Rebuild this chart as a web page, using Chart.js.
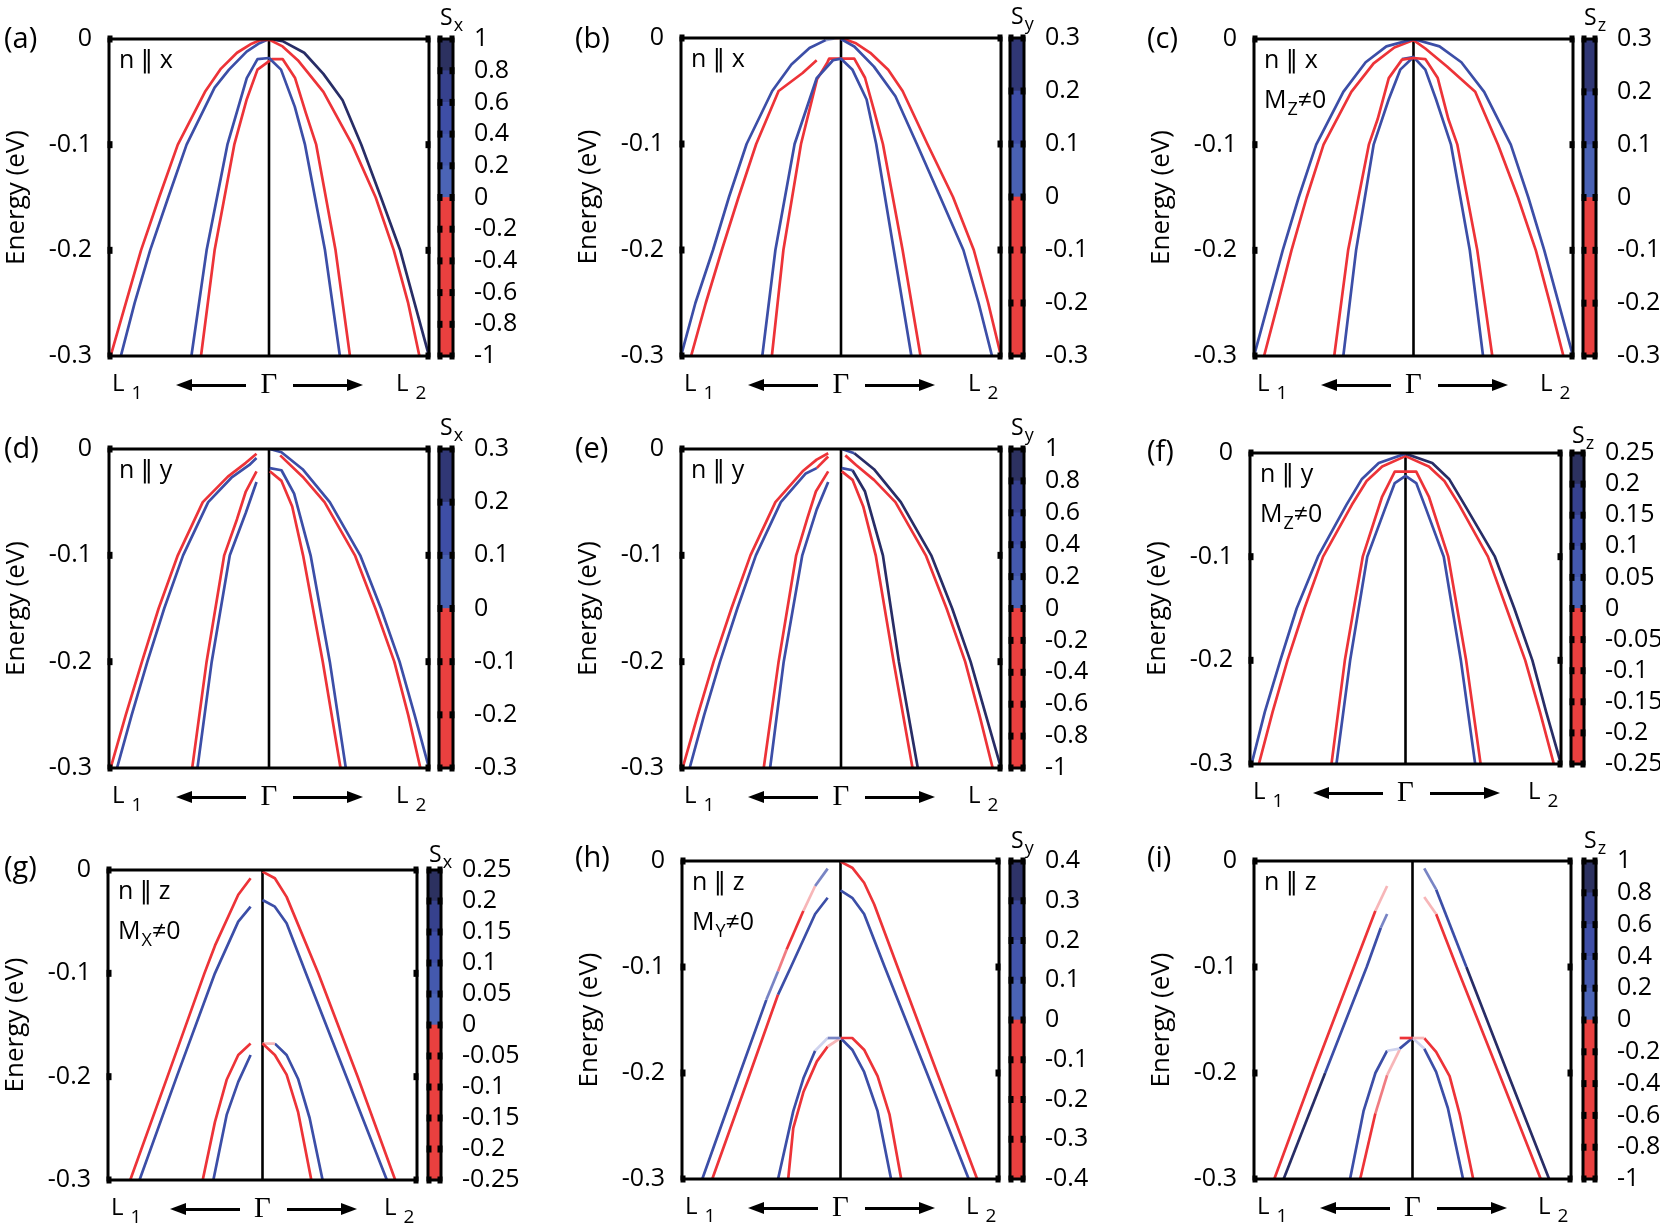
<!DOCTYPE html>
<html>
<head>
<meta charset="utf-8">
<script src="https://cdn.jsdelivr.net/npm/chart.js@4.4.1/dist/chart.umd.min.js"></script>
<style>
body{margin:0;background:#fff;width:1660px;height:1229px;position:relative;overflow:hidden;font-family:"Open Sans","DejaVu Sans",sans-serif;color:#000}
canvas{position:absolute}
.txt{position:absolute;white-space:nowrap}
.sb{font-size:19px;position:relative;top:8px;margin-left:7px}
.ms{font-size:18px;position:relative;top:7px;margin-left:1px}
.ss{font-size:18px;position:relative;top:6px;margin-left:1px}
.arr{position:absolute;height:3px;background:#000}
.hl,.hr{position:absolute;width:0;height:0;border-top:6px solid transparent;border-bottom:6px solid transparent}
.hl{border-right:16px solid #000}
.hr{border-left:16px solid #000}
</style>
</head>
<body>
<script>
// energy axis
const energyTicks = [0, -0.1, -0.2, -0.3];

// colorbar tick values
const spinTicks1 = [1, 0.8, 0.6, 0.4, 0.2, 0, -0.2, -0.4, -0.6, -0.8, -1];
const spinTicks03 = [0.3, 0.2, 0.1, 0, -0.1, -0.2, -0.3];
const spinTicks025 = [0.25, 0.2, 0.15, 0.1, 0.05, 0, -0.05, -0.1, -0.15, -0.2, -0.25];
const spinTicks04 = [0.4, 0.3, 0.2, 0.1, 0, -0.1, -0.2, -0.3, -0.4];

// bands: [colour, [[k, E], ...]]  k: L1 = -1, Gamma = 0, L2 = 1
const bandsA = [
  ['red',  [[-0.99,-0.3],[-0.895,-0.25],[-0.80,-0.2],[-0.687,-0.15],[-0.57,-0.1],[-0.40,-0.05],[-0.30,-0.028],[-0.20,-0.013],[-0.116,-0.005],[-0.054,-0.001],[0,-0.0005],[0.085,-0.007],[0.18,-0.02],[0.34,-0.05],[0.52,-0.1],[0.667,-0.15],[0.78,-0.2],[0.87,-0.25],[0.94,-0.3]]],
  ['blue', [[-0.926,-0.3],[-0.84,-0.25],[-0.743,-0.2],[-0.63,-0.15],[-0.515,-0.1],[-0.34,-0.046],[-0.25,-0.029],[-0.14,-0.012],[-0.06,-0.004],[0,0]]],
  ['navy', [[0,0],[0.085,-0.002],[0.22,-0.013],[0.34,-0.033],[0.46,-0.058],[0.577,-0.1],[0.70,-0.15],[0.82,-0.2],[0.91,-0.25],[1.0,-0.3]]],
  ['blue', [[-0.485,-0.3],[-0.39,-0.2],[-0.26,-0.1],[-0.139,-0.037],[-0.072,-0.019],[0,-0.018],[0.075,-0.029],[0.161,-0.064],[0.225,-0.1],[0.35,-0.2],[0.443,-0.3]]],
  ['red',  [[-0.425,-0.3],[-0.34,-0.2],[-0.217,-0.1],[-0.139,-0.057],[-0.072,-0.029],[0.018,-0.019],[0.085,-0.019],[0.163,-0.037],[0.23,-0.07],[0.295,-0.1],[0.416,-0.2],[0.506,-0.3]]]
];

const bandsB = [
  ['blue', [[-1.0,-0.3],[-0.91,-0.25],[-0.80,-0.2],[-0.70,-0.15],[-0.59,-0.1],[-0.43,-0.05],[-0.31,-0.025],[-0.197,-0.0095],[-0.096,-0.002]]],
  ['lblue',[[-0.096,-0.002],[-0.04,-0.0005]]],
  ['pink', [[-0.04,-0.0005],[0,0]]],
  ['blue', [[0,-0.001],[0.083,-0.008],[0.206,-0.027],[0.34,-0.055],[0.474,-0.1],[0.62,-0.15],[0.765,-0.2],[0.86,-0.25],[0.944,-0.3]]],
  ['red',  [[-0.937,-0.3],[-0.845,-0.25],[-0.745,-0.2],[-0.64,-0.15],[-0.53,-0.1],[-0.39,-0.05],[-0.24,-0.033],[-0.152,-0.021]]],
  ['red',  [[0,0],[0.094,-0.005],[0.183,-0.014],[0.295,-0.03],[0.385,-0.05],[0.54,-0.1],[0.70,-0.15],[0.83,-0.2],[0.92,-0.25],[1.0,-0.3]]],
  ['blue', [[-0.492,-0.3],[-0.41,-0.2],[-0.29,-0.1],[-0.152,-0.038],[-0.05,-0.021],[0,-0.0195],[0.072,-0.03],[0.16,-0.058],[0.22,-0.1],[0.33,-0.2],[0.44,-0.3]]],
  ['red',  [[-0.432,-0.3],[-0.36,-0.2],[-0.25,-0.1],[-0.15,-0.039],[-0.085,-0.023],[-0.074,-0.0195],[0.083,-0.0195],[0.15,-0.0375],[0.206,-0.068],[0.262,-0.1],[0.385,-0.2],[0.497,-0.3]]]
];

const bandsC = [
  ['blue', [[-1.0,-0.3],[-0.91,-0.25],[-0.82,-0.2],[-0.72,-0.15],[-0.61,-0.1],[-0.44,-0.05],[-0.30,-0.022],[-0.17,-0.007],[0,0],[0.163,-0.007],[0.30,-0.022],[0.443,-0.05],[0.61,-0.1],[0.72,-0.15],[0.82,-0.2],[0.91,-0.25],[1.0,-0.3]]],
  ['red',  [[-0.937,-0.3],[-0.85,-0.25],[-0.765,-0.2],[-0.67,-0.15],[-0.564,-0.1],[-0.39,-0.05],[-0.25,-0.023],[-0.12,-0.008],[0,-0.001],[0.074,-0.009],[0.21,-0.026],[0.387,-0.05],[0.53,-0.1],[0.655,-0.15],[0.767,-0.2],[0.855,-0.25],[0.94,-0.3]]],
  ['red',  [[-0.497,-0.3],[-0.41,-0.2],[-0.28,-0.1],[-0.225,-0.076],[-0.155,-0.037],[-0.072,-0.0195],[0,-0.018],[0.074,-0.019],[0.152,-0.037],[0.219,-0.076],[0.275,-0.1],[0.40,-0.2],[0.494,-0.3]]],
  ['blue', [[-0.44,-0.3],[-0.36,-0.2],[-0.25,-0.1],[-0.155,-0.057],[-0.083,-0.029],[0,-0.017],[0.074,-0.029],[0.141,-0.057],[0.235,-0.1],[0.353,-0.2],[0.436,-0.3]]],
  ['blue', [[-0.072,-0.019],[0,-0.017]]]
];

const bandsD = [
  ['red',  [[-0.99,-0.3],[-0.895,-0.25],[-0.794,-0.2],[-0.69,-0.15],[-0.57,-0.1],[-0.414,-0.05],[-0.257,-0.026],[-0.145,-0.013],[-0.078,-0.0044]]],
  ['blue', [[-0.95,-0.3],[-0.858,-0.25],[-0.76,-0.2],[-0.655,-0.15],[-0.537,-0.1],[-0.38,-0.05],[-0.235,-0.027],[-0.123,-0.015],[-0.078,-0.0085]]],
  ['red',  [[-0.48,-0.3],[-0.39,-0.2],[-0.28,-0.1],[-0.2,-0.066],[-0.145,-0.04],[-0.078,-0.021]]],
  ['blue', [[-0.447,-0.3],[-0.358,-0.2],[-0.245,-0.1],[-0.145,-0.06],[-0.078,-0.031]]],
  ['blue', [[0.005,0],[0.078,-0.003],[0.21,-0.019],[0.38,-0.05],[0.57,-0.1],[0.70,-0.15],[0.816,-0.2],[0.91,-0.25],[1.0,-0.3]]],
  ['red',  [[0.07,-0.006],[0.21,-0.026],[0.347,-0.05],[0.537,-0.1],[0.665,-0.15],[0.783,-0.2],[0.87,-0.25],[0.946,-0.3]]],
  ['blue', [[0.005,-0.018],[0.078,-0.02],[0.157,-0.042],[0.26,-0.1],[0.38,-0.2],[0.48,-0.3]]],
  ['red',  [[0.005,-0.021],[0.078,-0.03],[0.145,-0.054],[0.213,-0.1],[0.336,-0.2],[0.447,-0.3]]]
];

const bandsE = [
  ['red',  [[-0.99,-0.3],[-0.895,-0.25],[-0.796,-0.2],[-0.685,-0.15],[-0.566,-0.1],[-0.41,-0.05],[-0.24,-0.021],[-0.152,-0.01],[-0.08,-0.004]]],
  ['blue', [[-0.946,-0.3],[-0.855,-0.25],[-0.756,-0.2],[-0.648,-0.15],[-0.532,-0.1],[-0.376,-0.05],[-0.22,-0.023],[-0.152,-0.018]]],
  ['red',  [[-0.152,-0.018],[-0.08,-0.007]]],
  ['red',  [[-0.483,-0.3],[-0.39,-0.2],[-0.28,-0.1],[-0.21,-0.065],[-0.157,-0.04],[-0.08,-0.021]]],
  ['blue', [[-0.443,-0.3],[-0.358,-0.2],[-0.242,-0.1],[-0.152,-0.057],[-0.08,-0.031]]],
  ['blue', [[0.005,0],[0.083,-0.004]]],
  ['navy', [[0.083,-0.004],[0.206,-0.019],[0.374,-0.05],[0.564,-0.1],[0.695,-0.15],[0.81,-0.2],[0.905,-0.25],[1.0,-0.3]]],
  ['red',  [[0.027,-0.006],[0.094,-0.015],[0.206,-0.029],[0.34,-0.05],[0.53,-0.1],[0.66,-0.15],[0.776,-0.2],[0.865,-0.25],[0.948,-0.3]]],
  ['blue', [[0.005,-0.018],[0.072,-0.02]]],
  ['navy', [[0.072,-0.02],[0.15,-0.04],[0.262,-0.1],[0.362,-0.2],[0.48,-0.3]]],
  ['red',  [[0.005,-0.021],[0.072,-0.029],[0.139,-0.054],[0.217,-0.1],[0.329,-0.2],[0.447,-0.3]]]
];

const bandsF = [
  ['blue', [[-0.99,-0.3],[-0.905,-0.25],[-0.805,-0.2],[-0.70,-0.15],[-0.563,-0.1],[-0.38,-0.05],[-0.28,-0.025],[-0.172,-0.0097],[0,-0.0006]]],
  ['navy', [[0,-0.0006],[0.172,-0.0097],[0.28,-0.025],[0.38,-0.05],[0.575,-0.1],[0.70,-0.15],[0.816,-0.2],[0.905,-0.25],[1.0,-0.3]]],
  ['red',  [[-0.943,-0.3],[-0.855,-0.25],[-0.759,-0.2],[-0.65,-0.15],[-0.53,-0.1],[-0.345,-0.05],[-0.25,-0.027],[-0.15,-0.013],[0,-0.003],[0.15,-0.013],[0.25,-0.027],[0.345,-0.05],[0.53,-0.1],[0.65,-0.15],[0.77,-0.2],[0.865,-0.25],[0.954,-0.3]]],
  ['red',  [[-0.476,-0.3],[-0.39,-0.2],[-0.275,-0.1],[-0.15,-0.042],[-0.069,-0.018],[0.069,-0.018],[0.15,-0.042],[0.275,-0.1],[0.39,-0.2],[0.483,-0.3]]],
  ['blue', [[-0.444,-0.3],[-0.356,-0.2],[-0.246,-0.1],[-0.126,-0.0515],[-0.069,-0.029],[0,-0.022],[0.069,-0.029],[0.126,-0.0515],[0.246,-0.1],[0.356,-0.2],[0.448,-0.3]]]
];

const bandsG = [
  ['red',  [[-0.856,-0.3],[-0.615,-0.2],[-0.376,-0.1],[-0.307,-0.073],[-0.157,-0.024],[-0.077,-0.008]]],
  ['blue', [[-0.796,-0.3],[-0.555,-0.2],[-0.308,-0.1],[-0.157,-0.05],[-0.077,-0.0355]]],
  ['red',  [[0,-0.0016],[0.08,-0.008],[0.156,-0.026],[0.361,-0.1],[0.616,-0.2],[0.859,-0.3]]],
  ['blue', [[0,-0.029],[0.08,-0.0355],[0.156,-0.0516],[0.281,-0.1],[0.543,-0.2],[0.805,-0.3]]],
  ['red',  [[-0.387,-0.3],[-0.308,-0.244],[-0.232,-0.203],[-0.157,-0.179],[-0.077,-0.168]]],
  ['blue', [[-0.318,-0.3],[-0.232,-0.237],[-0.157,-0.205],[-0.077,-0.179]]],
  ['red',  [[0,-0.168],[0.08,-0.179],[0.156,-0.198],[0.23,-0.234],[0.316,-0.3]]],
  ['pink', [[0,-0.168],[0.08,-0.168]]],
  ['blue', [[0.08,-0.168],[0.156,-0.179],[0.23,-0.202],[0.305,-0.24],[0.389,-0.3]]]
];

const bandsH = [
  ['mblue', [[-0.081,-0.0072],[-0.16,-0.0236]]],
  ['pink',  [[-0.16,-0.0236],[-0.234,-0.047]]],
  ['red',   [[-0.234,-0.047],[-0.34,-0.0835]]],
  ['mpink', [[-0.34,-0.0835],[-0.394,-0.104]]],
  ['mblue', [[-0.394,-0.104],[-0.468,-0.131]]],
  ['blue',  [[-0.468,-0.131],[-0.634,-0.2],[-0.872,-0.3]]],
  ['blue',  [[-0.081,-0.0347],[-0.16,-0.05],[-0.313,-0.1],[-0.394,-0.126]]],
  ['red',   [[-0.394,-0.126],[-0.57,-0.2],[-0.809,-0.3]]],
  ['red',   [[0,-0.0006],[0.074,-0.0063],[0.149,-0.0205],[0.213,-0.041],[0.36,-0.1],[0.61,-0.2],[0.862,-0.3]]],
  ['blue',  [[0,-0.0277],[0.074,-0.0347],[0.149,-0.05],[0.279,-0.1],[0.545,-0.2],[0.809,-0.3]]],
  ['mblue', [[0,-0.167],[-0.081,-0.167]]],
  ['vlblue',[[-0.081,-0.167],[-0.16,-0.179]]],
  ['blue',  [[-0.16,-0.179],[-0.234,-0.205],[-0.298,-0.236],[-0.394,-0.3]]],
  ['pink',  [[0,-0.167],[-0.081,-0.175]]],
  ['red',   [[-0.081,-0.175],[-0.149,-0.189],[-0.234,-0.218],[-0.298,-0.252],[-0.33,-0.3]]],
  ['red',   [[0,-0.167],[0.074,-0.167],[0.149,-0.178],[0.234,-0.203],[0.309,-0.239],[0.383,-0.3]]],
  ['blue',  [[0,-0.167],[0.074,-0.178],[0.149,-0.199],[0.234,-0.236],[0.319,-0.3]]]
];

const bandsI = [
  ['pink',  [[-0.16,-0.0236],[-0.234,-0.047]]],
  ['red',   [[-0.234,-0.047],[-0.37,-0.1],[-0.625,-0.2],[-0.872,-0.3]]],
  ['mblue', [[-0.16,-0.05],[-0.2,-0.063]]],
  ['blue',  [[-0.2,-0.063],[-0.289,-0.1],[-0.551,-0.2]]],
  ['navy',  [[-0.551,-0.2],[-0.813,-0.3]]],
  ['mblue', [[0.074,-0.0069],[0.149,-0.0268]]],
  ['blue',  [[0.149,-0.0268],[0.34,-0.1]]],
  ['navy',  [[0.34,-0.1],[0.6,-0.2],[0.862,-0.3]]],
  ['pink',  [[0.074,-0.034],[0.149,-0.05]]],
  ['red',   [[0.149,-0.05],[0.279,-0.1],[0.545,-0.2],[0.809,-0.3]]],
  ['red',   [[-0.081,-0.167],[0,-0.167]]],
  ['blue',  [[0,-0.167],[-0.081,-0.177]]],
  ['vlblue',[[-0.081,-0.177],[-0.16,-0.179]]],
  ['blue',  [[-0.16,-0.179],[-0.234,-0.2],[-0.309,-0.236],[-0.394,-0.3]]],
  ['pink',  [[-0.081,-0.178],[-0.16,-0.202]]],
  ['mpink', [[-0.16,-0.202],[-0.234,-0.238]]],
  ['red',   [[-0.234,-0.238],[-0.33,-0.3]]],
  ['pink',  [[0,-0.167],[0.074,-0.167]]],
  ['red',   [[0.074,-0.167],[0.149,-0.18],[0.234,-0.203],[0.298,-0.239],[0.383,-0.3]]],
  ['vlblue',[[0,-0.167],[0.074,-0.177]]],
  ['blue',  [[0.074,-0.177],[0.149,-0.199],[0.223,-0.233],[0.319,-0.3]]]
];

const panelBands = [bandsA, bandsB, bandsC, bandsD, bandsE, bandsF, bandsG, bandsH, bandsI];
const panelSpinTicks = [spinTicks1, spinTicks03, spinTicks03, spinTicks03, spinTicks1, spinTicks025, spinTicks025, spinTicks04, spinTicks1];
const panelLetters = ['(a)', '(b)', '(c)', '(d)', '(e)', '(f)', '(g)', '(h)', '(i)'];
const panelDirection = ['x', 'x', 'x', 'y', 'y', 'y', 'z', 'z', 'z'];
const panelMoment = ['', '', 'Z', '', '', 'Z', 'X', 'Y', ''];
const spinComponent = ['x', 'y', 'z', 'x', 'y', 'z', 'x', 'y', 'z'];

// layout (page pixels)
const plotBoxes = [
  [109, 39, 429, 356], [681, 38, 1001, 356], [1254, 39, 1573, 356],
  [109, 449, 429, 768], [681, 449, 1001, 768], [1250, 453, 1561, 764],
  [108, 870, 417, 1180], [682, 861, 999, 1179], [1254, 861, 1571, 1179]
];
const cbX = [[438,455],[1009,1026],[1582,1598],[438,455],[1009,1026],[1570,1586],[427,443],[1009,1026],[1582,1598]];
const letterPos = [[4,22],[575,22],[1147,22],[4,432],[575,432],[1147,435],[4,851],[575,841],[1147,841]];
const spinTitleOff = [-14,-14,-14,-14,-14,-10,-8,-13,-13];

const COLORS = {
  red: '#ed3338', blue: '#3c4ea7', navy: '#282d66', lblue: '#a3acd9',
  vlblue: '#cfd3ee', mblue: '#7884c4', pink: '#f7b6b8', mpink: '#f07c82'
};
const AXIS_W = 105;
const CB_AX = 80;
const PAD_V = 44;

Chart.defaults.font.family = '"Open Sans", "DejaVu Sans", sans-serif';
Chart.defaults.color = '#000';

const framePlugin = {
  id: 'frame',
  afterDatasetsDraw(chart, args, opts) {
    const {ctx, chartArea: a} = chart;
    const y = chart.scales.y;
    ctx.save();
    ctx.strokeStyle = '#000';
    ctx.lineWidth = opts.lw;
    ctx.strokeRect(a.left, a.top, a.right - a.left, a.bottom - a.top);
    ctx.fillStyle = '#000';
    y.ticks.forEach(t => {
      const py = y.getPixelForValue(t.value);
      ctx.fillRect(a.left - opts.lw / 2, py - opts.mh / 2, opts.mw, opts.mh);
      ctx.fillRect(a.right + opts.lw / 2 - opts.mw, py - opts.mh / 2, opts.mw, opts.mh);
    });
    ctx.restore();
  }
};

function addText(html, left, top, css) {
  const d = document.createElement('div');
  d.className = 'txt';
  d.innerHTML = html;
  d.style.cssText = 'left:' + left + 'px;top:' + top + 'px;' + (css || '');
  document.body.appendChild(d);
  return d;
}

function spinColor(f) {
  if (f < 0) return '#e9403f';
  const stops = [[0, [78,106,186]], [0.5, [62,78,166]], [0.8, [50,58,128]], [1, [38,40,64]]];
  for (let i = 0; i < stops.length - 1; i++) {
    const [f0, c0] = stops[i], [f1, c1] = stops[i + 1];
    if (f <= f1) {
      const t = (f - f0) / (f1 - f0);
      return 'rgb(' + c0.map((c, j) => Math.round(c + (c1[j] - c) * t)).join(',') + ')';
    }
  }
  return 'rgb(38,40,64)';
}

function drawPanel(i) {
  const [L, T, R, B] = plotBoxes[i];
  const cv = document.createElement('canvas');
  cv.width = R - L + AXIS_W + 6;
  cv.height = B - T + 2 * PAD_V;
  cv.style.left = (L - AXIS_W) + 'px';
  cv.style.top = (T - PAD_V) + 'px';
  document.body.appendChild(cv);

  const datasets = panelBands[i].map(([c, pts]) => ({
    data: pts.map(p => ({x: p[0], y: p[1]})),
    borderColor: COLORS[c],
    borderWidth: 2.7,
    pointRadius: 0,
    tension: 0,
    borderJoinStyle: 'round',
    fill: false
  }));
  datasets.push({
    data: [{x: 0, y: -0.3}, {x: 0, y: 0}],
    borderColor: '#000', borderWidth: 2.6, pointRadius: 0
  });

  new Chart(cv, {
    type: 'line',
    data: {datasets},
    options: {
      responsive: false,
      devicePixelRatio: 1,
      animation: false,
      events: [],
      layout: {padding: {left: 0, right: 6, top: PAD_V, bottom: PAD_V}},
      plugins: {
        legend: {display: false},
        tooltip: {enabled: false},
        frame: {lw: 3, mw: 5, mh: 7}
      },
      scales: {
        x: {type: 'linear', min: -1, max: 1, display: false},
        y: {
          min: -0.3, max: 0,
          afterBuildTicks: s => { s.ticks = energyTicks.map(v => ({value: v})); },
          afterFit: s => { s.width = AXIS_W; },
          ticks: {padding: 17, font: {size: 25}, autoSkip: false, callback: v => String(v)},
          grid: {display: false, drawTicks: false},
          border: {display: false},
          title: {display: true, text: 'Energy (eV)', font: {size: 26, lineHeight: 1}, padding: {top: 0, bottom: 0}}
        }
      }
    },
    plugins: [framePlugin]
  });
}

function drawColorbar(i) {
  const [L, T, R, B] = plotBoxes[i];
  const [cL, cR] = cbX[i];
  const ticks = panelSpinTicks[i];
  const sorted = ticks.slice().sort((a, b) => a - b);
  const vmax = sorted[sorted.length - 1];
  const cv = document.createElement('canvas');
  cv.width = cR - cL + CB_AX;
  cv.height = B - T + 2 * PAD_V;
  cv.style.left = (cL - 2) + 'px';
  cv.style.top = (T - PAD_V) + 'px';
  document.body.appendChild(cv);

  const datasets = [];
  for (let k = 0; k < sorted.length - 1; k++) {
    const lo = sorted[k], hi = sorted[k + 1];
    datasets.push({
      data: [[lo, hi]],
      backgroundColor: spinColor((lo + hi) / 2 / vmax),
      barPercentage: 1, categoryPercentage: 1, grouped: false, borderWidth: 0
    });
  }

  new Chart(cv, {
    type: 'bar',
    data: {labels: [''], datasets},
    options: {
      responsive: false,
      devicePixelRatio: 1,
      animation: false,
      events: [],
      layout: {padding: {left: 3, right: 0, top: PAD_V, bottom: PAD_V}},
      plugins: {
        legend: {display: false},
        tooltip: {enabled: false},
        frame: {lw: 3, mw: 5, mh: 7}
      },
      scales: {
        x: {display: false},
        y: {
          position: 'right',
          min: sorted[0], max: vmax,
          afterBuildTicks: s => { s.ticks = ticks.map(v => ({value: v})); },
          afterFit: s => { s.width = CB_AX; },
          ticks: {padding: 21, font: {size: 25}, autoSkip: false, callback: v => String(v)},
          grid: {display: false, drawTicks: false},
          border: {display: false}
        }
      }
    },
    plugins: [framePlugin]
  });

  addText('S<span class="ss">' + spinComponent[i] + '</span>', cL + 2, T + spinTitleOff[i] - 20,
    'font-size:23px;line-height:23px');
}

function drawLabels(i) {
  const [L, T, R, B] = plotBoxes[i];
  const cx = (L + R) / 2;
  addText(panelLetters[i], letterPos[i][0], letterPos[i][1], 'font-size:29px;line-height:29px');

  let note = 'n \u2225 ' + panelDirection[i];
  if (panelMoment[i]) note += '<br>M<span class="ms">' + panelMoment[i] + '</span>\u22600';
  addText(note, L + 10, T - 1, 'font-size:25px;line-height:40px');

  addText('L<span class="sb">1</span>', L + 3, B + 14, 'font-size:24px;line-height:24px');
  addText('L<span class="sb">2</span>', R - 33, B + 14, 'font-size:24px;line-height:24px');
  addText('\u0393', cx - 20, B + 13,
    'width:40px;text-align:center;font-family:"Liberation Serif",serif;font-size:29px;line-height:29px');

  const ay = B + 29;
  const a1 = document.createElement('div');
  a1.className = 'arr';
  a1.style.cssText = 'left:' + (cx - 80) + 'px;top:' + (ay - 1.5) + 'px;width:57px';
  document.body.appendChild(a1);
  const h1 = document.createElement('div');
  h1.className = 'hl';
  h1.style.cssText = 'left:' + (cx - 93) + 'px;top:' + (ay - 6) + 'px';
  document.body.appendChild(h1);

  const a2 = document.createElement('div');
  a2.className = 'arr';
  a2.style.cssText = 'left:' + (cx + 24) + 'px;top:' + (ay - 1.5) + 'px;width:57px';
  document.body.appendChild(a2);
  const h2 = document.createElement('div');
  h2.className = 'hr';
  h2.style.cssText = 'left:' + (cx + 78) + 'px;top:' + (ay - 6) + 'px';
  document.body.appendChild(h2);
}

for (let i = 0; i < 9; i++) {
  drawPanel(i);
  drawColorbar(i);
  drawLabels(i);
}
</script>
</body>
</html>
